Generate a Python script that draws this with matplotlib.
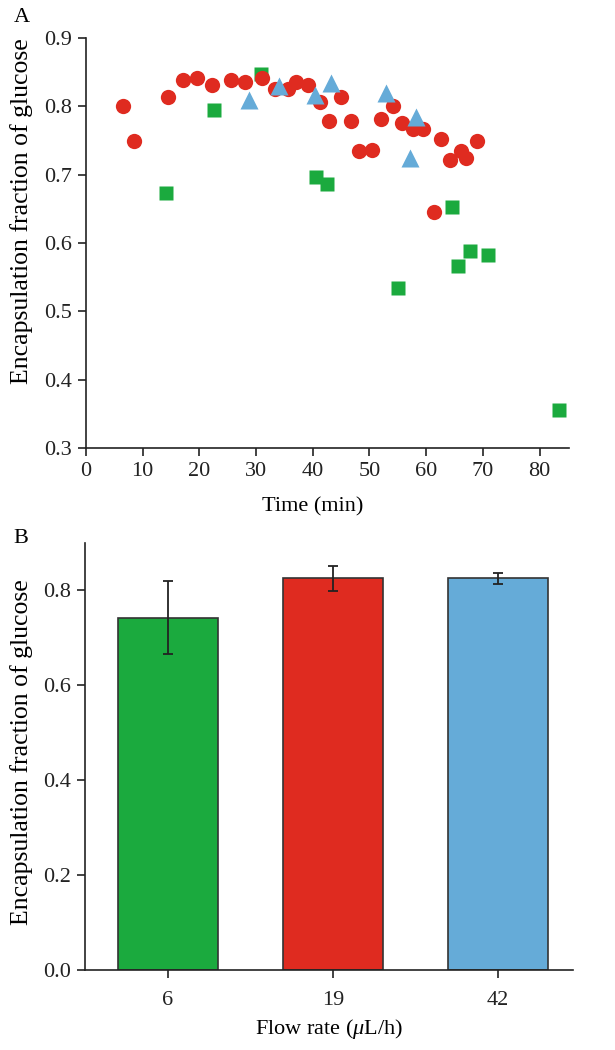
import matplotlib
matplotlib.use("Agg")
import matplotlib.pyplot as plt

plt.rcParams['font.family'] = ['Liberation Serif', 'DejaVu Serif']
plt.rcParams['mathtext.fontset'] = 'custom'
plt.rcParams['mathtext.it'] = 'Liberation Serif:italic'
plt.rcParams['mathtext.rm'] = 'Liberation Serif'

# Panel A data
red_t = [6.6, 8.4, 14.5, 17.1, 19.6, 22.3, 25.5, 28.1, 31.1, 33.4, 35.7, 37.0, 39.2,
         41.3, 45.0, 42.9, 46.7, 48.1, 50.4, 52.0, 54.1, 55.7, 57.6, 59.5, 61.4, 62.6,
         64.2, 66.1, 67.1, 68.9]
red_v = [0.801, 0.749, 0.814, 0.838, 0.841, 0.831, 0.838, 0.835, 0.841, 0.825, 0.826,
         0.835, 0.831, 0.806, 0.814, 0.779, 0.779, 0.735, 0.736, 0.781, 0.800, 0.775,
         0.767, 0.767, 0.645, 0.752, 0.721, 0.735, 0.724, 0.750]
green_t = [14.1, 22.5, 30.9, 40.5, 42.5, 55.1, 64.6, 65.7, 67.8, 70.9, 83.5]
green_v = [0.673, 0.794, 0.847, 0.697, 0.687, 0.534, 0.652, 0.566, 0.589, 0.582, 0.355]
blue_t = [28.8, 34.1, 40.4, 43.3, 52.9, 58.3, 57.2]
blue_v = [0.810, 0.830, 0.817, 0.834, 0.820, 0.784, 0.725]

# Panel B data
flow_labels = ['6', '19', '42']
bar_means = [0.742, 0.825, 0.825]
bar_errs = [0.077, 0.026, 0.011]

c_green = '#1BAA3E'
c_red = '#DF2B20'
c_blue = '#65ABD8'

fig = plt.figure(figsize=(6.15, 10.5), dpi=100)
FS = 16
FSY = 18.5

axA = fig.add_axes([0.1398, 0.5733, 0.7854, 0.3905])
axA.plot(green_t, green_v, 's', color=c_green, ms=9.5, mec='none', zorder=2, clip_on=False)
axA.plot(red_t, red_v, 'o', color=c_red, ms=11, mec='none', zorder=3, clip_on=False)
axA.plot(blue_t, blue_v, '^', color=c_blue, ms=13.5, mec='none', zorder=4, clip_on=False)
axA.set_xlim(0, 85.2)
axA.set_ylim(0.3, 0.9)
axA.set_xticks(range(0, 81, 10))
axA.set_yticks([0.3, 0.4, 0.5, 0.6, 0.7, 0.8, 0.9])
axA.set_xlabel('Time (min)', fontsize=FS)
axA.xaxis.set_label_coords(40 / 85.2, -0.12)
axA.set_ylabel('Encapsulation fraction of glucose', fontsize=FSY)
axA.yaxis.set_label_coords(-0.110, 0.577)

axB = fig.add_axes([0.138, 0.0762, 0.794, 0.4068])
xpos = list(range(len(flow_labels)))
axB.bar(xpos, bar_means, width=0.605, color=[c_green, c_red, c_blue],
        edgecolor='#333333', linewidth=1.2, zorder=2)
axB.errorbar(xpos, bar_means, yerr=bar_errs, fmt='none', ecolor='#222222',
             elinewidth=1.3, capsize=3.4, capthick=1.3, zorder=3)
axB.set_xlim(-0.504, 2.456)
axB.set_ylim(0, 0.9)
axB.set_xticks(xpos)
axB.set_xticklabels(flow_labels)
axB.set_yticks([0.0, 0.2, 0.4, 0.6, 0.8])
axB.set_yticklabels(['0.0', '0.2', '0.4', '0.6', '0.8'])
axB.set_xlabel(r'Flow rate ($\mu$L/h)', fontsize=FS, labelpad=5)
axB.set_ylabel('Encapsulation fraction of glucose', fontsize=FSY)
axB.yaxis.set_label_coords(-0.107, 0.51)

for ax in (axA, axB):
    for s in ('top', 'right'):
        ax.spines[s].set_visible(False)
    for s in ('left', 'bottom'):
        ax.spines[s].set_linewidth(1.2)
        ax.spines[s].set_color('#222222')
    ax.tick_params(direction='out', length=6, width=1.2, labelsize=FS, colors='#222222',
                   labelcolor='#222222', pad=4)
axB.tick_params(axis='x', pad=9)

fig.text(0.022, 0.983, 'A', fontsize=FS, va='center', ha='left')
fig.text(0.022, 0.487, 'B', fontsize=FS, va='center', ha='left')

fig.savefig('out.png', dpi=100)
